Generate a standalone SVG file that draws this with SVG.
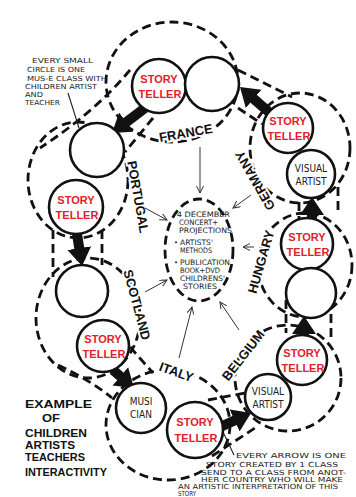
<svg xmlns="http://www.w3.org/2000/svg" width="356" height="497" viewBox="0 0 356 497">
<style>
.bg{fill:#ffffff}
.outline{fill:none;stroke:#111;stroke-width:2.8;stroke-dasharray:9 5}
.node{fill:#fff;stroke:#111;stroke-width:2.6}
.st{font-family:"Liberation Sans","DejaVu Sans",sans-serif;font-weight:bold;font-size:11px;fill:#e3202a;text-anchor:middle}
.va{font-family:"DejaVu Sans Condensed","Liberation Sans",sans-serif;font-size:10px;fill:#222;text-anchor:middle}
.country{font-family:"Liberation Sans","DejaVu Sans",sans-serif;font-weight:bold;font-size:13px;fill:#111;text-anchor:middle;stroke:#fff;stroke-width:4;paint-order:stroke;dominant-baseline:middle}
.note{font-family:"DejaVu Sans Condensed","Liberation Sans",sans-serif;font-size:7px;fill:#222}
.cnote{font-family:"DejaVu Sans Condensed","Liberation Sans",sans-serif;font-size:7.5px;fill:#222}
.big{font-family:"Liberation Sans","DejaVu Sans",sans-serif;font-weight:bold;font-size:10.5px;fill:#111}
.thick{stroke:#111;stroke-width:10;fill:none;marker-end:url(#head)}
.thin{stroke:#333;stroke-width:1;fill:none;marker-end:url(#vhead)}
.pointer{stroke:#222;stroke-width:1.1;fill:none}
</style>
<defs>
<marker id="head" markerUnits="userSpaceOnUse" markerWidth="20" markerHeight="26" refX="6" refY="12" orient="auto">
<path d="M0,0 L18,12 L0,24 z" fill="#111"/>
</marker>
<marker id="vhead" markerUnits="userSpaceOnUse" markerWidth="9" markerHeight="9" refX="7" refY="3.5" orient="auto">
<path d="M0,0 L7,3.5 L0,7" fill="none" stroke="#333" stroke-width="1"/>
</marker>
</defs>
<rect class="bg" x="0" y="0" width="356" height="497"/>

<g id="outlines">
<ellipse id="france-region" class="outline" cx="172" cy="82" rx="66" ry="60"/>
<ellipse id="germany-region" class="outline" cx="300" cy="148" rx="50" ry="55"/>
<ellipse id="hungary-region" class="outline" cx="305" cy="265" rx="47" ry="52"/>
<circle id="belgium-region" class="outline" cx="288" cy="378" r="53"/>
<ellipse id="italy-region" class="outline" cx="168" cy="425" rx="62" ry="55"/>
<ellipse id="scotland-region" class="outline" cx="88" cy="318" rx="52" ry="60"/>
<ellipse id="portugal-region" class="outline" cx="78" cy="180" rx="50" ry="58"/>
<path class="outline" d="M130,70 Q95,112 40,148"/>
<path class="outline" d="M153,118 L125,152"/>
<path class="outline" d="M238,70 L292,97"/>
<path class="outline" d="M238,108 L262,124"/>
<path class="outline" d="M299,202 L299,220"/>
<path class="outline" d="M338,187 L338,215"/>
<path class="outline" d="M286,300 L286,333"/>
<path class="outline" d="M331,300 L331,338"/>
<path class="outline" d="M208,400 L245,393"/>
<path class="outline" d="M212,456 L255,428"/>
<path class="outline" d="M130,347 L153,373"/>
<path class="outline" d="M58,365 Q90,380 112,398"/>
<path class="outline" d="M53,230 L53,277"/>
<path class="outline" d="M102,230 L102,265"/>
</g>

<g id="center">
<ellipse class="outline" cx="199" cy="250" rx="34" ry="51" stroke-width="2"/>
<text class="cnote" x="172" y="217" textLength="58" lengthAdjust="spacingAndGlyphs">•4 DECEMBER</text>
<text class="cnote" x="179" y="225" textLength="39" lengthAdjust="spacingAndGlyphs">CONCERT+</text>
<text class="cnote" x="179" y="233" textLength="53" lengthAdjust="spacingAndGlyphs">PROJECTIONS</text>
<text class="cnote" x="174" y="245">•</text>
<text class="cnote" x="180" y="245" textLength="33" lengthAdjust="spacingAndGlyphs">ARTISTS'</text>
<text class="cnote" x="180" y="253" textLength="32" lengthAdjust="spacingAndGlyphs">METHODS</text>
<text class="cnote" x="174" y="265">•</text>
<text class="cnote" x="180" y="265" textLength="50" lengthAdjust="spacingAndGlyphs">PUBLICATION</text>
<text class="cnote" x="180" y="273" textLength="40" lengthAdjust="spacingAndGlyphs">BOOK+DVD</text>
<text class="cnote" x="180" y="281" textLength="45" lengthAdjust="spacingAndGlyphs">CHILDRENS'</text>
<text class="cnote" x="183" y="289" textLength="34" lengthAdjust="spacingAndGlyphs">STORIES</text>
</g>

<g id="labels">
<text class="country" transform="translate(186,134) rotate(-10)">FRANCE</text>
<text class="country" transform="translate(137,197) rotate(80)">PORTUGAL</text>
<text class="country" transform="translate(136,305) rotate(75)">SCOTLAND</text>
<text class="country" transform="translate(176,373) rotate(20)">ITALY</text>
<text class="country" transform="translate(244,356) rotate(-52)">BELGIUM</text>
<text class="country" transform="translate(262,262) rotate(-74)">HUNGARY</text>
<text class="country" transform="translate(256,180) rotate(-120)">GERMANY</text>
</g>

<g id="connectors">
<line class="thick" x1="145" y1="108" x2="121.6" y2="125.8"/>
<line class="thick" x1="270" y1="113" x2="249.1" y2="94.9"/>
<line class="thick" x1="77" y1="234" x2="80.2" y2="254.1"/>
<line class="thick" x1="113" y1="370" x2="124.9" y2="380.2"/>
<line class="thick" x1="218" y1="428" x2="240.1" y2="418"/>
<line class="thick" x1="304" y1="337" x2="304" y2="328"/>
<line class="thick" x1="312" y1="220" x2="312" y2="209"/>
<line class="thin" x1="200" y1="147" x2="200" y2="193"/>
<line class="thin" x1="251" y1="195" x2="233" y2="208"/>
<line class="thin" x1="254" y1="247" x2="243" y2="247"/>
<line class="thin" x1="239" y1="330" x2="220" y2="302"/>
<line class="thin" x1="179" y1="358" x2="192" y2="307"/>
<line class="thin" x1="145" y1="208" x2="167" y2="220"/>
<line class="thin" x1="145" y1="292" x2="167" y2="280"/>
<line class="pointer" x1="68" y1="93" x2="79" y2="128"/>
<line class="pointer" x1="234" y1="455" x2="223" y2="432"/>
</g>

<g id="france-storyteller"><circle class="node" cx="159" cy="86" r="27"/><text class="st" x="159" y="83">STORY</text><text class="st" x="160" y="98">TELLER</text></g>
<g id="france-class"><circle class="node" cx="212" cy="84" r="27"/></g>
<g id="germany-storyteller"><circle class="node" cx="288" cy="128" r="25"/><text class="st" x="288" y="125">STORY</text><text class="st" x="289" y="140">TELLER</text></g>
<g id="germany-visual-artist"><circle class="node" cx="311" cy="174" r="24"/><text class="va" x="311" y="172">VISUAL</text><text class="va" x="311" y="185">ARTIST</text></g>
<g id="hungary-storyteller"><circle class="node" cx="307" cy="244" r="26"/><text class="st" x="307" y="241">STORY</text><text class="st" x="308" y="256">TELLER</text></g>
<g id="hungary-class"><circle class="node" cx="311" cy="293" r="25"/></g>
<g id="belgium-storyteller"><circle class="node" cx="302" cy="360" r="25"/><text class="st" x="302" y="357">STORY</text><text class="st" x="303" y="372">TELLER</text></g>
<g id="belgium-visual-artist"><circle class="node" cx="268" cy="397" r="23"/><text class="va" x="268" y="395">VISUAL</text><text class="va" x="268" y="408">ARTIST</text></g>
<g id="italy-musician"><circle class="node" cx="141" cy="408" r="25"/><text class="va" x="141" y="405">MUSI</text><text class="va" x="141" y="418">CIAN</text></g>
<g id="italy-storyteller"><circle class="node" cx="195" cy="430" r="28"/><text class="st" x="195" y="426">STORY</text><text class="st" x="196" y="442">TELLER</text></g>
<g id="scotland-class"><circle class="node" cx="82" cy="291" r="26"/></g>
<g id="scotland-storyteller"><circle class="node" cx="103" cy="346" r="26"/><text class="st" x="103" y="343">STORY</text><text class="st" x="104" y="358">TELLER</text></g>
<g id="portugal-class"><circle class="node" cx="97" cy="150" r="27"/></g>
<g id="portugal-storyteller"><circle class="node" cx="76" cy="207" r="27"/><text class="st" x="76" y="204">STORY</text><text class="st" x="77" y="219">TELLER</text></g>

<g id="notes">
<text class="note" x="32" y="63" textLength="61" lengthAdjust="spacingAndGlyphs">EVERY SMALL</text>
<text class="note" x="27" y="72" textLength="58" lengthAdjust="spacingAndGlyphs">CIRCLE IS ONE</text>
<text class="note" x="27" y="81" textLength="80" lengthAdjust="spacingAndGlyphs">MUS-E CLASS WITH</text>
<text class="note" x="25" y="89" textLength="72" lengthAdjust="spacingAndGlyphs">CHILDREN ARTIST</text>
<text class="note" x="25" y="97" textLength="18" lengthAdjust="spacingAndGlyphs">AND</text>
<text class="note" x="25" y="105" textLength="35" lengthAdjust="spacingAndGlyphs">TEACHER</text>
<text class="big" x="25" y="408" font-size="12" textLength="67" lengthAdjust="spacingAndGlyphs">EXAMPLE</text>
<text class="big" x="42" y="422" font-size="12" textLength="18" lengthAdjust="spacingAndGlyphs">OF</text>
<text class="big" x="25" y="437" textLength="62" lengthAdjust="spacingAndGlyphs">CHILDREN</text>
<text class="big" x="25" y="449" textLength="50" lengthAdjust="spacingAndGlyphs">ARTISTS</text>
<text class="big" x="25" y="461" textLength="60" lengthAdjust="spacingAndGlyphs">TEACHERS</text>
<text class="big" x="25" y="476" textLength="82" lengthAdjust="spacingAndGlyphs">INTERACTIVITY</text>
<text class="note" x="236" y="458" textLength="110" lengthAdjust="spacingAndGlyphs">EVERY ARROW IS ONE</text>
<text class="note" x="206" y="466.5" textLength="132" lengthAdjust="spacingAndGlyphs">STORY CREATED BY 1 CLASS</text>
<text class="note" x="201" y="474.5" textLength="145" lengthAdjust="spacingAndGlyphs">SEND TO A CLASS FROM ANOT-</text>
<text class="note" x="201" y="482" textLength="142" lengthAdjust="spacingAndGlyphs">HER COUNTRY WHO WILL MAKE</text>
<text class="note" x="178" y="488.5" textLength="160" lengthAdjust="spacingAndGlyphs">AN ARTISTIC INTERPRETATION OF THIS</text>
<text class="note" x="178" y="495.5" font-size="6" textLength="18" lengthAdjust="spacingAndGlyphs">STORY</text>
</g>
</svg>
